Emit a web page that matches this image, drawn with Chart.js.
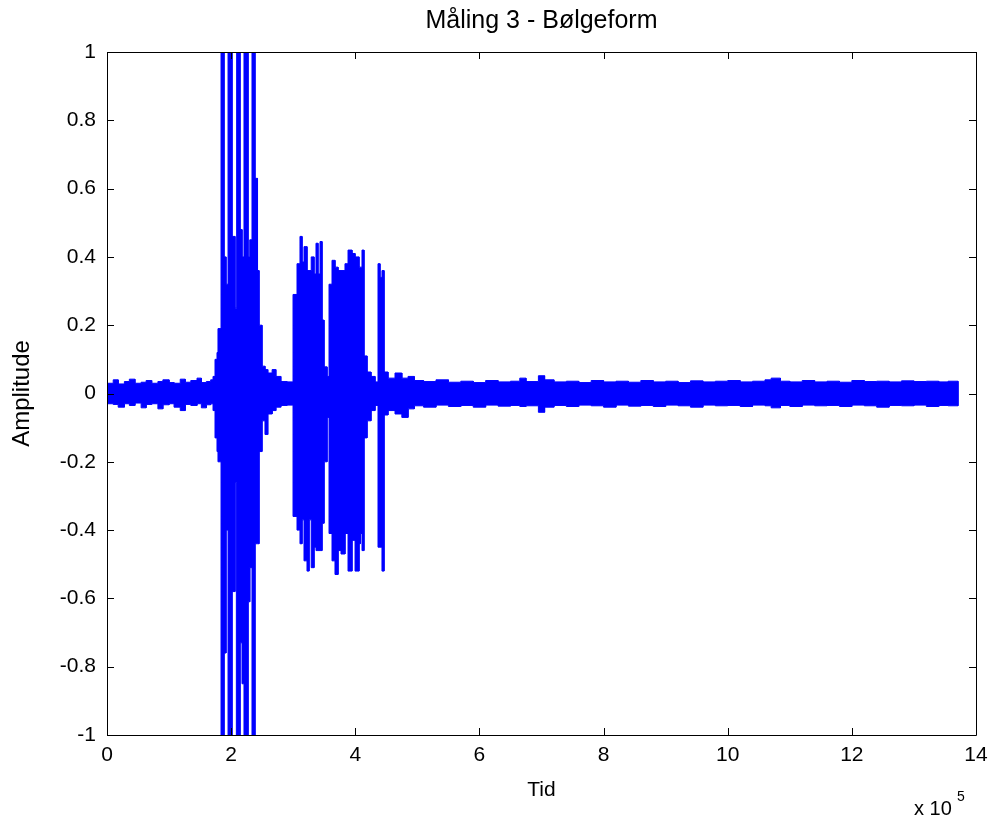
<!DOCTYPE html>
<html>
<head>
<meta charset="utf-8">
<script src="https://cdn.jsdelivr.net/npm/chart.js@4"></script>
<style>
  html, body { margin: 0; padding: 0; background: #fff; }
</style>
</head>
<body>
<canvas id="wave" width="991" height="821"></canvas>
<script>
// Envelope of the waveform (x in units of 10^5 samples).
// Each value holds from its x until the next x.
const tid = [
  0.00, 0.10, 0.18, 0.28, 0.36, 0.45, 0.55, 0.63, 0.72, 0.82, 0.90, 1.00, 1.08, 1.18, 1.26, 1.35, 1.45, 1.52, 1.60, 1.67,
  1.708, 1.74, 1.772, 1.788, 1.837, 1.885, 1.917, 1.950, 2.014, 2.062, 2.079, 2.094, 2.143, 2.175, 2.207, 2.272, 2.30,
  2.336, 2.384, 2.425, 2.449, 2.497, 2.545, 2.59, 2.66, 2.72, 2.80, 2.90,
  2.997, 3.061, 3.109, 3.142, 3.174, 3.222, 3.255, 3.29, 3.335, 3.367, 3.399, 3.432, 3.464, 3.496, 3.545,
  3.577, 3.625, 3.673, 3.722, 3.77, 3.834, 3.883, 3.947, 3.996, 4.060, 4.08, 4.108, 4.140, 4.189, 4.253, 4.318,
  4.366, 4.398, 4.430, 4.463, 4.527, 4.64, 4.75, 4.85, 4.95, 5.10, 5.30, 5.50, 5.70, 5.90, 6.10, 6.30, 6.50, 6.65,
  6.75, 6.95, 7.05, 7.20, 7.40, 7.60, 7.80, 8.00, 8.20, 8.40, 8.60, 8.80, 9.00, 9.20, 9.40, 9.60, 9.80, 10.00,
  10.20, 10.40, 10.60, 10.70, 10.85, 11.00, 11.20, 11.40, 11.60, 11.80, 12.00, 12.20, 12.40, 12.60, 12.80, 13.00,
  13.20, 13.40, 13.55, 13.71
];
const upper = [
  0.030, 0.040, 0.028, 0.035, 0.042, 0.030, 0.033, 0.038, 0.030, 0.035, 0.040, 0.032, 0.030, 0.042, 0.033, 0.038, 0.045, 0.032, 0.035, 0.040,
  0.050, 0.100, 0.120, 0.190, 1.000, 0.400, 0.320, 1.000, 0.460, 0.250, 0.460, 1.000, 0.480, 0.400, 1.000, 0.400, 0.450,
  1.000, 0.630, 0.360, 0.200, 0.080, 0.070, 0.060, 0.070, 0.050, 0.035, 0.034,
  0.290, 0.380, 0.460, 0.385, 0.430, 0.360, 0.360, 0.400, 0.350, 0.440, 0.350, 0.445, 0.215, 0.078, 0.050,
  0.320, 0.390, 0.370, 0.360, 0.360, 0.380, 0.420, 0.410, 0.400, 0.370, 0.370, 0.420, 0.110, 0.063, 0.050, 0.034,
  0.380, 0.340, 0.360, 0.063, 0.045, 0.060, 0.045, 0.050, 0.038, 0.035, 0.040, 0.033, 0.036, 0.032, 0.038, 0.034, 0.036, 0.045,
  0.035, 0.052, 0.040, 0.034, 0.036, 0.032, 0.038, 0.034, 0.036, 0.033, 0.038, 0.034, 0.036, 0.032, 0.037, 0.034, 0.036, 0.038,
  0.034, 0.036, 0.040, 0.045, 0.036, 0.034, 0.038, 0.034, 0.036, 0.033, 0.038, 0.035, 0.036, 0.034, 0.037, 0.035,
  0.036, 0.034, 0.036, 0.034
];
const lower = [
  -0.030, -0.032, -0.040, -0.030, -0.035, -0.028, -0.042, -0.032, -0.030, -0.045, -0.033, -0.030, -0.040, -0.050, -0.032, -0.035, -0.030, -0.042, -0.033, -0.030,
  -0.050, -0.130, -0.170, -0.200, -1.000, -0.760, -0.400, -1.000, -0.580, -0.260, -0.580, -1.000, -0.730, -0.850, -1.000, -0.610, -0.510,
  -1.000, -0.440, -0.440, -0.170, -0.080, -0.120, -0.060, -0.050, -0.040, -0.035, -0.034,
  -0.360, -0.400, -0.440, -0.370, -0.490, -0.520, -0.370, -0.510, -0.450, -0.460, -0.460, -0.460, -0.380, -0.200, -0.070,
  -0.410, -0.490, -0.530, -0.460, -0.470, -0.410, -0.520, -0.430, -0.520, -0.440, -0.410, -0.460, -0.130, -0.080, -0.050, -0.035,
  -0.450, -0.450, -0.520, -0.063, -0.050, -0.060, -0.070, -0.045, -0.036, -0.040, -0.034, -0.038, -0.035, -0.040, -0.034, -0.037, -0.035, -0.038,
  -0.036, -0.055, -0.040, -0.035, -0.038, -0.034, -0.036, -0.040, -0.034, -0.037, -0.035, -0.038, -0.034, -0.036, -0.040, -0.034, -0.036, -0.035,
  -0.038, -0.034, -0.036, -0.042, -0.035, -0.038, -0.034, -0.036, -0.035, -0.038, -0.034, -0.036, -0.040, -0.035, -0.036, -0.034,
  -0.038, -0.035, -0.036, -0.035
];
const xTicks = [0, 2, 4, 6, 8, 10, 12, 14];
const yTicks = [-1, -0.8, -0.6, -0.4, -0.2, 0, 0.2, 0.4, 0.6, 0.8, 1];

const BLUE = '#0000ff';
const FONT = 'Liberation Sans, Arial, sans-serif';

// MATLAB style box with inward ticks on every side, plus the x 10^5 exponent
const boxPlugin = {
  id: 'matlabBox',
  afterDraw(chart) {
    const { ctx, chartArea: a, scales } = chart;
    ctx.save();
    ctx.strokeStyle = '#000';
    ctx.lineWidth = 1;
    ctx.beginPath();
    ctx.rect(Math.round(a.left) + 0.5, Math.round(a.top) + 0.5, Math.round(a.right - a.left), Math.round(a.bottom - a.top));
    const tl = 7;
    xTicks.forEach(v => {
      const x = Math.round(scales.x.getPixelForValue(v)) + 0.5;
      ctx.moveTo(x, a.bottom); ctx.lineTo(x, a.bottom - tl);
      ctx.moveTo(x, a.top); ctx.lineTo(x, a.top + tl);
    });
    yTicks.forEach(v => {
      const y = Math.round(scales.y.getPixelForValue(v)) + 0.5;
      ctx.moveTo(a.left, y); ctx.lineTo(a.left + tl, y);
      ctx.moveTo(a.right, y); ctx.lineTo(a.right - tl, y);
    });
    ctx.stroke();

    ctx.fillStyle = '#000';
    ctx.textBaseline = 'alphabetic';
    ctx.textAlign = 'left';
    ctx.font = '20px ' + FONT;
    ctx.fillText('x 10', 914, 815);
    ctx.font = '14px ' + FONT;
    ctx.fillText('5', 957, 801);
    ctx.restore();
  }
};

// each envelope value is held flat until the next x, so emit both ends of its step
function stepPoints(vals) {
  const pts = [];
  tid.forEach((x, i) => {
    pts.push({ x, y: vals[i] });
    const next = i + 1 < tid.length ? tid[i + 1] : x;
    pts.push({ x: next, y: vals[i] });
  });
  return pts;
}

// outline of the band: along the top edge, then back along the bottom edge
const band = stepPoints(upper).concat(stepPoints(lower).reverse());

new Chart(document.getElementById('wave').getContext('2d'), {
  type: 'line',
  data: {
    datasets: [{
      label: 'Amplitude',
      data: band,
      borderColor: BLUE,
      backgroundColor: BLUE,
      borderWidth: 1,
      pointRadius: 0,
      tension: 0,
      fill: 'shape'
    }]
  },
  options: {
    responsive: false,
    animation: false,
    devicePixelRatio: 1,
    layout: { padding: { left: 0, right: 15, top: 0, bottom: 0 } },
    plugins: {
      legend: { display: false },
      tooltip: { enabled: false },
      title: {
        display: true,
        fullSize: false,
        text: 'Måling 3 - Bølgeform',
        color: '#000',
        font: { family: FONT, size: 25, weight: 'normal' },
        padding: { top: 6, bottom: 16 }
      }
    },
    scales: {
      x: {
        type: 'linear',
        min: 0,
        max: 14,
        grid: { display: false, drawTicks: false },
        border: { display: false },
        afterBuildTicks: s => { s.ticks = xTicks.map(v => ({ value: v })); },
        afterFit: s => { s.height = 86; s.paddingLeft = 0; s.paddingRight = 0; },
        ticks: {
          color: '#000',
          font: { family: FONT, size: 21 },
          padding: 8,
          maxRotation: 0,
          callback: v => String(v)
        },
        title: {
          display: true,
          text: 'Tid',
          color: '#000',
          font: { family: FONT, size: 21 },
          padding: { top: 0, bottom: 18 }
        }
      },
      y: {
        type: 'linear',
        min: -1,
        max: 1,
        grid: { display: false, drawTicks: false },
        border: { display: false },
        afterBuildTicks: s => { s.ticks = yTicks.map(v => ({ value: v })); },
        afterFit: s => { s.width = 107; },
        ticks: {
          color: '#000',
          font: { family: FONT, size: 21 },
          padding: 11,
          callback: v => String(v)
        },
        title: {
          display: true,
          text: 'Amplitude',
          color: '#000',
          font: { family: FONT, size: 24 },
          padding: { top: 8, bottom: 0 }
        }
      }
    }
  },
  plugins: [boxPlugin]
});
</script>
</body>
</html>
